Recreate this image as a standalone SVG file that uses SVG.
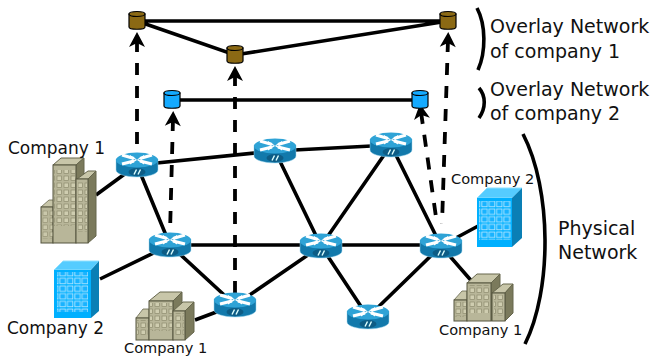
<svg xmlns="http://www.w3.org/2000/svg" width="652" height="356" viewBox="0 0 652 356">
<style>
text{font-family:"DejaVu Sans",sans-serif;fill:#111}
.big{font-size:19px}.mid{font-size:17px}.sm{font-size:14.600px}
.l{stroke:#000;stroke-width:3.600;fill:none}
.d{stroke:#000;stroke-width:3.800;fill:none;stroke-dasharray:12 11}
.b{stroke:#000;stroke-width:3.600;fill:none}
</style>
<defs>
<marker id="ah" viewBox="-2 -2 20 20" refX="7" refY="8" markerWidth="20" markerHeight="20" markerUnits="userSpaceOnUse" orient="auto-start-reverse"><path d="M0 0L15 8L0 16L4 8Z" fill="#000"/></marker>
<g id="router">
<path d="M-21 -6V5C-21 9-11 12 0 12S21 9 21 5V-6Z" fill="#1279ab" stroke="#9fd6ee" stroke-width=".5"/>
<ellipse cx="0" cy="-5" rx="21" ry="7.500" fill="#2fa3d6"/>
<path d="M-15 -10L-3 -6.500M15 -10L3 -6.500M-15 -1L-3 -4M15 -1L3 -4" stroke="#fff" stroke-width="3.200" fill="none"/>
<path d="M-7 -10L0 -5.500-7 -4ZM7 -10L0 -5.500 7 -4ZM-7 -.5L0 -5-7 -7ZM7 -.5L0 -5 7 -7Z" fill="#fff"/>
<ellipse cx="0" cy="7" rx="8.500" ry="4" fill="#0d5c85"/>
<path d="M-3 9.500L-.5 4.500M1 9.500L3.500 4.500" stroke="#dff" stroke-width="1.400"/>
</g>
<g id="cyl">
<path d="M-8 -7V6C-8 9 8 9 8 6V-7Z" stroke="#000" stroke-width="1.200"/>
<ellipse cx="0" cy="-7" rx="8" ry="2.500" stroke="#000" stroke-width="1.200"/>
</g>
<pattern id="wt" width="7" height="7" patternUnits="userSpaceOnUse"><rect x="1" y="1" width="4.500" height="4.500" fill="#cfcdb0" stroke="#8d8b6d" stroke-width=".7"/></pattern>
<pattern id="wb" width="7.400" height="7.700" patternUnits="userSpaceOnUse"><rect x=".8" y="1" width="5.500" height="5.500" fill="#19b3ff" stroke="#bfeaff" stroke-width=".8"/></pattern>
</defs>
<g id="connectors">
<path class="l" d="M137 21H448M137 21L235 55L448 21M172 100H420"/>
<path class="l" d="M137 165L275 151L391 145M137 165L170 245M96 195L137 165M100 279L170 245M170 245H441M170 245L235 305M195 320L235 305M235 305L321 246M275 151L321 246M391 145L321 246M391 145L441 246M321 246L368 317M441 246L368 317M441 246L480 225M441 246L475 285"/>
<path class="d" d="M137 40V153" marker-start="url(#ah)"/>
<path class="d" d="M173 119L170 233" marker-start="url(#ah)"/>
<path class="d" d="M235 74V293" marker-start="url(#ah)"/>
<path class="d" d="M421 112L437 224" marker-start="url(#ah)"/>
<path class="d" d="M448 40L442 224" marker-start="url(#ah)"/>
</g>
<g id="r1"><use href="#router" x="137" y="165"/></g>
<g id="r2"><use href="#router" x="170" y="245"/></g>
<g id="r3"><use href="#router" x="275" y="151"/></g>
<g id="r4"><use href="#router" x="391" y="145"/></g>
<g id="r5"><use href="#router" x="321" y="246"/></g>
<g id="r6"><use href="#router" x="441" y="246"/></g>
<g id="r7"><use href="#router" x="235" y="305"/></g>
<g id="r8"><use href="#router" x="368" y="317"/></g>
<g id="c1" fill="#8b6914"><use href="#cyl" x="137" y="21"/></g>
<g id="c2" fill="#8b6914"><use href="#cyl" x="235" y="55"/></g>
<g id="c3" fill="#8b6914"><use href="#cyl" x="448" y="21"/></g>
<g id="c4" fill="#14aaff"><use href="#cyl" x="172" y="100"/></g>
<g id="c5" fill="#14aaff"><use href="#cyl" x="420" y="100"/></g>
<g id="b1">
<path d="M41 207L49 200H60L53 207Z" fill="#c8c6a9" stroke="#66664d" stroke-width=".8"/>
<rect x="41" y="207" width="12" height="36" fill="#b8b699" stroke="#55553f"/>
<rect x="41" y="209" width="12" height="30" fill="url(#wt)" opacity=".8"/>
<path d="M53 165L61 158H84L76 165Z" fill="#c8c6a9" stroke="#66664d"/>
<path d="M76 165L84 158V220L76 228Z" fill="#7b7a5c" stroke="#66664d"/>
<rect x="53" y="165" width="23" height="78" fill="#b8b699" stroke="#55553f"/>
<rect x="54" y="170" width="21" height="56" fill="url(#wt)"/>
<path d="M77 179L88 171H96L88 179Z" fill="#c8c6a9" stroke="#66664d"/>
<path d="M88 179L96 171V236L88 243Z" fill="#7b7a5c" stroke="#66664d"/>
<rect x="76" y="179" width="12" height="64" fill="#b8b699" stroke="#55553f"/>
<rect x="78" y="182" width="9" height="50" fill="url(#wt)"/>
<text class="mid" x="8" y="154">Company 1</text>
</g>
<g id="b2">
<path d="M54 270L63 261H99L91 270Z" fill="#55ccff" stroke="#8fe0ff"/>
<path d="M91 270L99 261V311L91 318Z" fill="#0a7fb5"/>
<rect x="54" y="270" width="37" height="48" fill="#00b0ff"/>
<rect x="57" y="272" width="31" height="40" fill="url(#wb)"/>
<text class="mid" x="7" y="334">Company 2</text>
</g>
<g id="b3">
<path d="M136 318L143 309H149V318Z" fill="#c8c6a9" stroke="#66664d" stroke-width=".8"/>
<rect x="136" y="318" width="13" height="22" fill="#b8b699" stroke="#55553f"/>
<rect x="137" y="320" width="11" height="15" fill="url(#wt)"/>
<path d="M149 301L160 292H182L173 301Z" fill="#c8c6a9" stroke="#66664d"/>
<path d="M173 301L182 292V332L173 340Z" fill="#7b7a5c" stroke="#66664d"/>
<rect x="149" y="301" width="24" height="39" fill="#b8b699" stroke="#55553f"/>
<rect x="150" y="303" width="22" height="28" fill="url(#wt)"/>
<path d="M173 311L183 302H194L185 311Z" fill="#c8c6a9" stroke="#66664d"/>
<path d="M185 311L194 302V332L185 340Z" fill="#7b7a5c" stroke="#66664d"/>
<rect x="173" y="311" width="12" height="29" fill="#b8b699" stroke="#55553f"/>
<rect x="175" y="313" width="9" height="22" fill="url(#wt)"/>
<text class="sm" x="124" y="353">Company 1</text>
</g>
<g id="b4">
<path d="M477 198L487 188H522L512 198Z" fill="#55ccff" stroke="#8fe0ff"/>
<path d="M512 198L522 188V238L512 247Z" fill="#0a7fb5"/>
<rect x="477" y="198" width="35" height="49" fill="#00b0ff"/>
<rect x="479" y="201" width="32" height="39" fill="url(#wb)"/>
<text class="sm" x="451" y="184">Company 2</text>
</g>
<g id="b5">
<path d="M454 300L462 291H467V300Z" fill="#c8c6a9" stroke="#66664d" stroke-width=".8"/>
<rect x="454" y="300" width="13" height="21" fill="#b8b699" stroke="#55553f"/>
<rect x="455" y="302" width="11" height="15" fill="url(#wt)"/>
<path d="M467 283L477 274H500L491 283Z" fill="#c8c6a9" stroke="#66664d"/>
<path d="M491 283L500 274V313L491 321Z" fill="#7b7a5c" stroke="#66664d"/>
<rect x="467" y="283" width="24" height="38" fill="#b8b699" stroke="#55553f"/>
<rect x="468" y="285" width="22" height="28" fill="url(#wt)"/>
<path d="M492 293L503 284H513L505 293Z" fill="#c8c6a9" stroke="#66664d"/>
<path d="M505 293L513 284V313L505 321Z" fill="#7b7a5c" stroke="#66664d"/>
<rect x="492" y="293" width="13" height="28" fill="#b8b699" stroke="#55553f"/>
<rect x="494" y="295" width="10" height="21" fill="url(#wt)"/>
<text class="sm" x="439" y="335">Company 1</text>
</g>
<path class="b" d="M477 8C486 25 486 52 478 70"/>
<path class="b" d="M479 88C486 96 486 108 479 118"/>
<path class="b" d="M523 134C552 190 552 290 525 344"/>
<text class="big" x="490" y="33">Overlay Network</text>
<text class="big" x="490" y="58">of company 1</text>
<text class="big" x="490" y="96">Overlay Network</text>
<text class="big" x="490" y="120">of company 2</text>
<text class="big" x="558" y="235">Physical</text>
<text class="big" x="558" y="259">Network</text>
</svg>
